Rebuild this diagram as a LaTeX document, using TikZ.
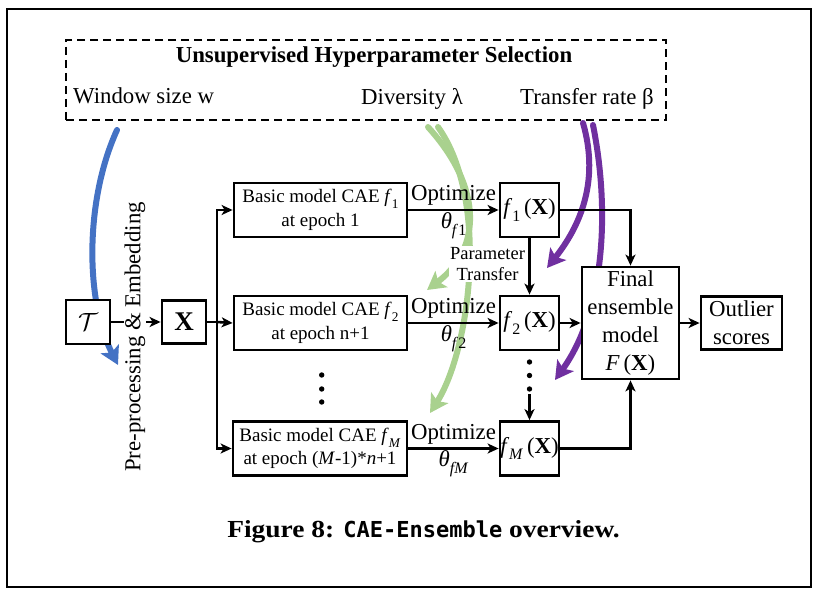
\documentclass[tikz,border=0pt]{standalone}
\usepackage{fontspec}
\usepackage{graphicx}
\setmainfont{Liberation Serif}
\newfontfamily\capfont[FakeStretch=1.12]{Liberation Serif}
\newfontfamily\capmono{DejaVu Sans Mono}
\usetikzlibrary{arrows.meta}
\newcommand{\sbx}[1]{\raisebox{-0.3em}{\scalebox{0.7}{#1}}}
\definecolor{cblue}{HTML}{4472C4}
\definecolor{cgreen}{HTML}{A9D18E}
\definecolor{cpurple}{HTML}{7030A0}
\begin{document}
\begin{tikzpicture}[x=1pt,y=-1pt,
  box/.style={draw, line width=2.8pt, fill=white, inner sep=0pt, align=center},
  conn/.style={line width=2.6pt, -{Stealth[length=11pt,width=10pt,inset=3pt]}},
  plain/.style={line width=2.6pt},
  big/.style={font=\fontsize{22.8}{27.8}\selectfont},
  small/.style={font=\fontsize{19}{23.5}\selectfont},
  fat/.style={line width=6pt, line cap=round, -{Stealth[length=18pt,width=20pt,inset=4pt]}},
  dot/.style={circle, fill, inner sep=0pt, minimum size=5.4pt},
]
\useasboundingbox (0,0) rectangle (824,591);
\draw[line width=1.2pt] (7,9) rectangle (811,587);

% hyperparameter box
\node[draw, dash pattern=on 8pt off 5pt, line width=1.4pt, minimum width=600pt, minimum height=80pt, inner sep=0pt] (hp) at (366,80) {};
\node[font=\fontsize{22.8}{27}\selectfont\bfseries, anchor=base] (title) at (374,63) {Unsupervised Hyperparameter Selection};
\node[big, anchor=base west, inner sep=0pt] (lw) at (73,104) {Window size w};
\node[big, anchor=base west, inner sep=0pt] (ld) at (361,105) {Diversity λ};
\node[big, anchor=base west, inner sep=0pt] (lt) at (520,105) {Transfer rate β};

% coloured arrows
\coordinate (bs) at (117,130); \coordinate (be) at (118,365);
\draw[fat, cblue] (bs) .. controls (85,200) and (85,300) .. (be);
\coordinate (g1s) at (428,127); \coordinate (g1e) at (427,290);
\draw[fat, cgreen] (g1s) .. controls (485,190) and (480,250) .. (g1e);
\coordinate (g2s) at (438,127); \coordinate (g2e) at (430,413);
\draw[fat, cgreen] (g2s) .. controls (490,200) and (470,350) .. (g2e);
\coordinate (p1s) at (583,123); \coordinate (p1e) at (547,268);
\draw[fat, cpurple] (p1s) .. controls (598,175) and (585,220) .. (p1e);
\coordinate (p2s) at (593,125); \coordinate (p2e) at (555,380);
\draw[fat, cpurple] (p2s) .. controls (610,210) and (605,310) .. (p2e);

\node[fill=white, inner sep=1pt, align=center, font=\fontsize{18.5}{21.7}\selectfont] (pt) at (487.5,264) {Parameter\\Transfer};

% boxes
\node[box, minimum width=44pt, minimum height=44pt] (T) at (88,322) {\fontsize{26}{26}\selectfont$\mathcal{T}$};
\node[box, minimum width=44pt, minimum height=43pt] (X) at (184,322) {\fontsize{27}{27}\selectfont\textbf{X}};
\node[box, small, minimum width=173pt, minimum height=54pt] (b1) at (320.5,210) {Basic model CAE \textit{f}\sbx{1}\\at epoch 1};
\node[box, small, minimum width=173pt, minimum height=54pt] (b2) at (320.5,323) {Basic model CAE \textit{f}\sbx{2}\\at epoch n+1};
\node[box, small, minimum width=174pt, minimum height=54pt] (bM) at (320,448.5) {Basic model CAE \textit{f}\sbx{\textit{M}}\\at epoch (\textit{M}-1)*\textit{n}+1};
\node[box, big, minimum width=59pt, minimum height=54pt] (f1) at (529.5,210) {\textit{f}\sbx{1}\,(\textbf{X})};
\node[box, big, minimum width=59pt, minimum height=54pt] (f2) at (529.5,323) {\textit{f}\sbx{2}\,(\textbf{X})};
\node[box, big, minimum width=59pt, minimum height=54pt] (fM) at (529.5,448.5) {\textit{f}\sbx{\textit{M}}\,(\textbf{X})};
\node[box, big, minimum width=97pt, minimum height=112pt] (F) at (630.5,323) {Final\\ensemble\\model\\\textit{F}\,(\textbf{X})};
\node[box, big, minimum width=81pt, minimum height=53pt] (O) at (741.5,323) {Outlier\\scores};

% input
\draw[conn] (T) -- (X);
\node[big, rotate=90, fill=white, inner sep=1pt] (pe) at (135,337) {Pre-processing \& Embedding};

% bus
\coordinate (bus) at (217,322);
\coordinate (bt) at (217,210);
\coordinate (bb) at (217,448.5);
\draw[plain] (X.east) -- (bus);
\draw[plain, line cap=rect] (bt) -- (bb);
\draw[conn] (bt) -- (b1.west);
\draw[conn] (bus) -- (b2.west);
\draw[conn] (bb) -- (bM.west);

% optimize
\draw[conn] (b1) -- node[above, big, inner sep=3pt] (o1) {Optimize} node[below, big, inner sep=1pt] (t1) {\textit{θ}\sbx{\textit{f}1}} (f1);
\draw[conn] (b2) -- node[above, big, inner sep=3pt] (o2) {Optimize} node[below, big, inner sep=1pt] (t2) {\textit{θ}\sbx{\textit{f}2}} (f2);
\draw[conn] (bM) -- node[above, big, inner sep=3pt] (o3) {Optimize} node[below, big, inner sep=1pt] (t3) {\textit{θ}\sbx{\textit{fM}}} (fM);

% dots
\node[dot] (d1) at (321.7,375) {};
\node[dot] (d2) at (321.7,389) {};
\node[dot] (d3) at (321.7,402) {};
\node[dot] (e1) at (529.5,362) {};
\node[dot] (e2) at (529.5,375.5) {};
\node[dot] (e3) at (529.5,389) {};
\coordinate (dq) at (529.5,394);

% right side
\draw[conn] (f1) -- (f2);
\draw[conn] (dq) -- (fM.north);
\draw[conn] (f1.east) -| (F.north);
\draw[conn] (fM.east) -| (F.south);
\draw[conn] (f2) -- (F);
\draw[conn] (F) -- (O);

% caption
\node (cap) at (423.5,532) {\capfont\bfseries\fontsize{24.5}{28}\selectfont Figure 8: {\capmono\bfseries\fontsize{22}{28}\selectfont CAE-Ensemble} overview.};
\end{tikzpicture}
\end{document}
